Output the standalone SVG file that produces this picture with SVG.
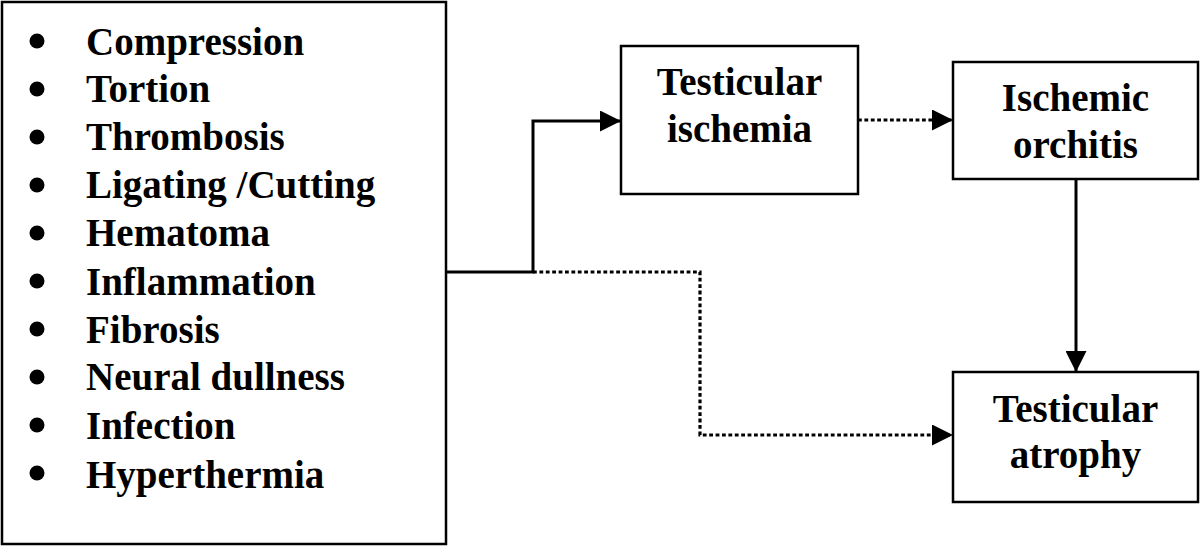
<svg xmlns="http://www.w3.org/2000/svg" width="1200" height="546" viewBox="0 0 1200 546">
  <style>
    .box { fill: #ffffff; stroke: #000000; stroke-width: 2.5; }
    .txt { font-family: "Liberation Serif", "Times New Roman", serif; font-weight: bold; font-size: 39px; fill: #000000; }
    .mid { text-anchor: middle; }
    .solid { fill: none; stroke: #000000; stroke-width: 3; }
    .dot { fill: none; stroke: #000000; stroke-width: 3.2; stroke-dasharray: 3.8 2.6; }
    .bullet { fill: #000000; }
  </style>
  <defs>
    <marker id="arrow" markerUnits="userSpaceOnUse" markerWidth="21" markerHeight="21" viewBox="0 0 21 21" refX="21" refY="10.5" orient="auto">
      <path d="M0,0 L21,10.5 L0,21 Z" fill="#000000"/>
    </marker>
  </defs>
  <rect x="0" y="0" width="1200" height="546" fill="#ffffff"/>

  <g id="causes">
    <rect class="box" x="2" y="2" width="444" height="542" stroke-width="2"/>
    <g class="bullet">
      <circle cx="37" cy="41" r="7.5"/>
      <circle cx="37" cy="89" r="7.5"/>
      <circle cx="37" cy="137" r="7.5"/>
      <circle cx="37" cy="185" r="7.5"/>
      <circle cx="37" cy="233" r="7.5"/>
      <circle cx="37" cy="281" r="7.5"/>
      <circle cx="37" cy="329" r="7.5"/>
      <circle cx="37" cy="377" r="7.5"/>
      <circle cx="37" cy="425" r="7.5"/>
      <circle cx="37" cy="473" r="7.5"/>
    </g>
    <text class="txt" x="86" y="55">Compression</text>
    <text class="txt" x="86" y="102">Tortion</text>
    <text class="txt" x="86" y="150">Thrombosis</text>
    <text class="txt" x="86" y="198">Ligating /Cutting</text>
    <text class="txt" x="86" y="246">Hematoma</text>
    <text class="txt" x="86" y="295">Inflammation</text>
    <text class="txt" x="86" y="343">Fibrosis</text>
    <text class="txt" x="86" y="390">Neural dullness</text>
    <text class="txt" x="86" y="439">Infection</text>
    <text class="txt" x="86" y="488">Hyperthermia</text>
  </g>

  <g id="testicular-ischemia">
    <rect class="box" x="621" y="46" width="237" height="148"/>
    <text class="txt mid" x="739.5" y="95">Testicular</text>
    <text class="txt mid" x="739.5" y="142">ischemia</text>
  </g>

  <g id="ischemic-orchitis">
    <rect class="box" x="953" y="62" width="245" height="117"/>
    <text class="txt mid" x="1075.5" y="111">Ischemic</text>
    <text class="txt mid" x="1075.5" y="158">orchitis</text>
  </g>

  <g id="testicular-atrophy">
    <rect class="box" x="953" y="372" width="245" height="130"/>
    <text class="txt mid" x="1075.5" y="422">Testicular</text>
    <text class="txt mid" x="1075.5" y="468">atrophy</text>
  </g>

  <g id="connectors">
    <path class="solid" d="M446,272 L533,272 L533,121 L621,121" marker-end="url(#arrow)"/>
    <path class="dot" d="M533,272 L700,272 L700,435 L953,435" marker-end="url(#arrow)"/>
    <path class="dot" d="M858,120 L953,120" marker-end="url(#arrow)"/>
    <path class="solid" d="M1076,179 L1076,372" marker-end="url(#arrow)"/>
  </g>
</svg>
